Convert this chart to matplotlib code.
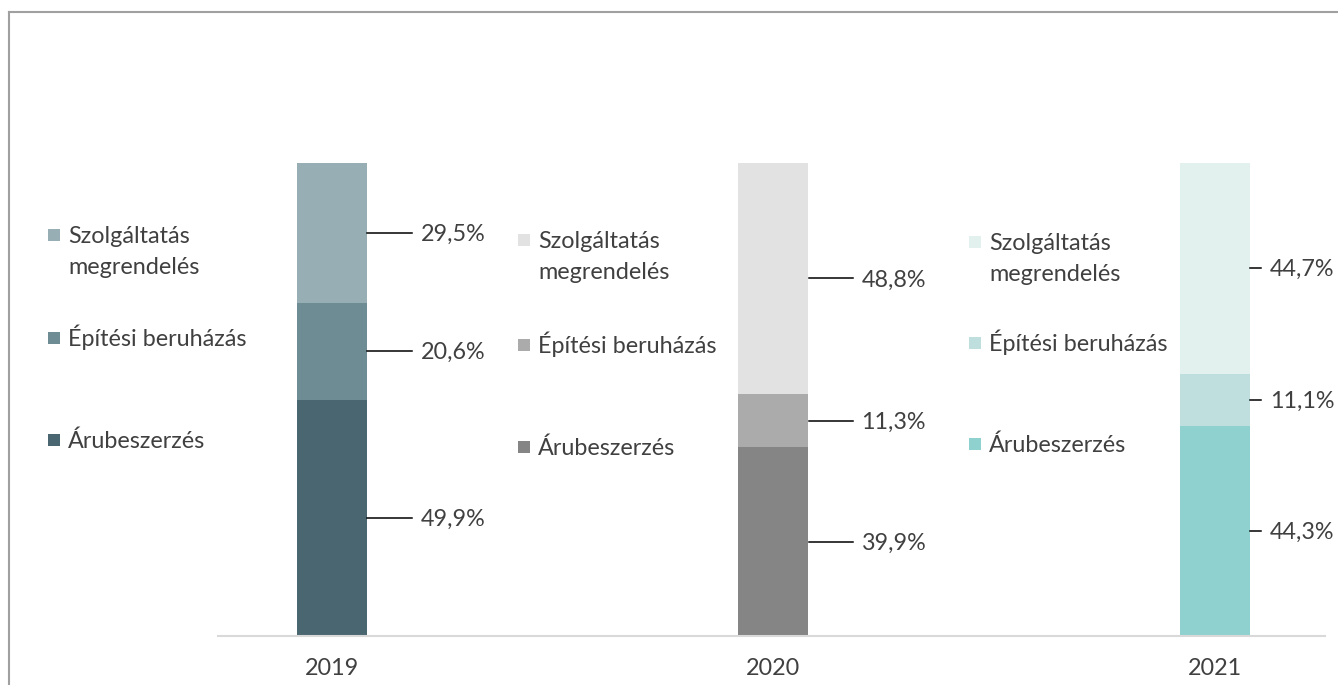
import matplotlib.pyplot as plt
from matplotlib.patches import Rectangle
from matplotlib.lines import Line2D

years = ["2019", "2020", "2021"]
categories = ["Árubeszerzés", "Építési beruházás", "Szolgáltatás\nmegrendelés"]
aru = [49.9, 39.9, 44.3]
epitesi = [20.6, 11.3, 11.1]
szolg = [29.5, 48.8, 44.7]

colors = [
    ["#4a6670", "#6e8c93", "#97aeb4"],
    ["#848584", "#aaabaa", "#e2e2e2"],
    ["#8fd1cf", "#bedfdd", "#e2f0ee"],
]

plt.rcParams['font.family'] = ['Lato', 'DejaVu Sans']
txt = "#404040"
fs = 16.8

W, H = 1338, 685
fig = plt.figure(figsize=(W / 100, H / 100), dpi=100)

def fx(x):
    return x / W

def fy(y):
    return 1 - y / H

# outer frame (left + top visible)
fig.add_artist(Line2D([fx(9), fx(9)], [fy(12), 0], color="#a0a0a0", lw=1.5))
fig.add_artist(Line2D([fx(9), 1], [fy(12), fy(12)], color="#a0a0a0", lw=1.5))

ax = fig.add_axes([fx(218), fy(636), fx(1325) - fx(218), fy(163) - fy(636)])
spacing = 441.5
ax.set_xlim(-114 / spacing, (1325 - 332) / spacing)
ax.set_ylim(0, 100)
for s in ax.spines.values():
    s.set_visible(False)
ax.set_yticks([])
ax.set_xticks([])

px_per_unit = (636 - 163) / 100
base = 8 / px_per_unit  # baseline offset from text centre

width = 70 / spacing
lead = [45 / spacing, 44 / spacing, 11 / spacing]
gap = 9 / spacing

for i in range(3):
    vals = [aru[i], epitesi[i], szolg[i]]
    bottom = 0
    for j, v in enumerate(vals):
        ax.bar(i, v, width=width, bottom=bottom, color=colors[i][j], linewidth=0)
        mid = bottom + v / 2
        x0 = i + width / 2
        ax.plot([x0, x0 + lead[i]], [mid, mid], color="black", lw=1.1, clip_on=False)
        ax.text(x0 + lead[i] + gap, mid - base, f"{v:.1f}%".replace(".", ","),
                va="baseline", ha="left", fontsize=fs, color=txt, clip_on=False)
        bottom += v
    ax.text(i, -(667 - 636) / px_per_unit - base, years[i], ha="center",
            va="baseline", fontsize=fs, color=txt)

ax.axhline(0, color="#d9d9d9", lw=1.5, clip_on=False)

# per-year legends (pixel positions: marker x, text x, first-line centre y of each entry)
leg_pos = [
    (48, 68, [440, 338, 235]),
    (518, 538, [447, 345, 240]),
    (969, 989, [444, 343, 242]),
]
line_h = 31
for i, (mx, tx, ys) in enumerate(leg_pos):
    for j, cat in enumerate(categories):
        y = ys[j]
        fig.add_artist(Rectangle((fx(mx), fy(y + 6)), 12 / W, 12 / H,
                                 color=colors[i][j], lw=0))
        for k, line in enumerate(cat.split("\n")):
            fig.text(fx(tx), fy(y + k * line_h + 8), line, ha="left",
                     va="baseline", fontsize=fs, color=txt)

fig.savefig("out.png", dpi=100)
